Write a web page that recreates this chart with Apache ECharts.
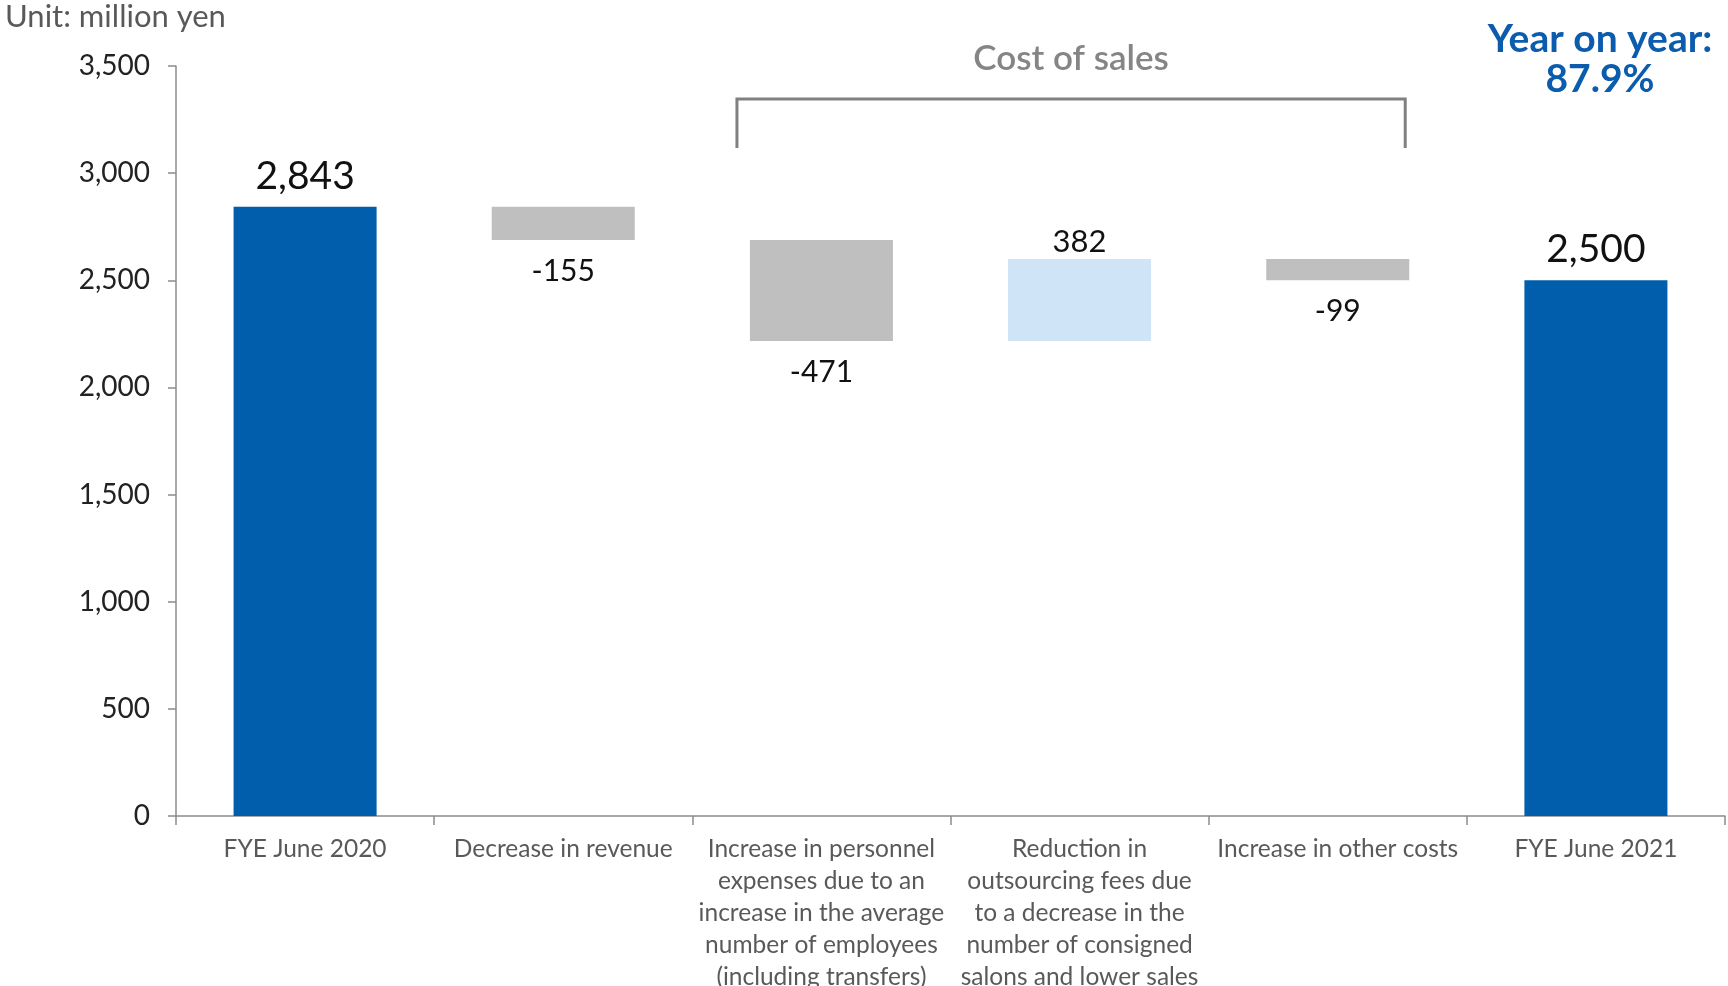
<!DOCTYPE html>
<html>
<head>
<meta charset="utf-8">
<script src="https://cdn.jsdelivr.net/npm/echarts@6/dist/echarts.min.js"></script>
<style>
  html, body { margin: 0; padding: 0; background: #fff; }
  #chart { width: 1728px; height: 986px; }
</style>
</head>
<body>
<div id="chart"></div>
<script>
// Cost-of-sales bridge, FYE June 2020 -> FYE June 2021 (million yen)
const categories = [
  'FYE June 2020',
  'Decrease in revenue',
  'Increase in personnel\nexpenses due to an\nincrease in the average\nnumber of employees\n(including transfers)',
  'Reduction in\noutsourcing fees due\nto a decrease in the\nnumber of consigned\nsalons and lower sales',
  'Increase in other costs',
  'FYE June 2021'
];
const values = [2843, -155, -471, 382, -99, 2500];
const isTotal = [true, false, false, false, false, true];
const yTicks = { min: 0, max: 3500, step: 500 };

const FONT = 'Lato, "Noto Sans", sans-serif';
const fmt = v => Math.round(v).toLocaleString('en-US');

// Waterfall: invisible base + visible segment per step
const base = [], totals = [], decreases = [], increases = [];
let running = 0;
values.forEach((v, i) => {
  if (isTotal[i]) {
    base.push(0); totals.push(v); decreases.push('-'); increases.push('-');
    running = v;
  } else if (v < 0) {
    running += v;
    base.push(running); totals.push('-'); decreases.push(-v); increases.push('-');
  } else {
    base.push(running); running += v;
    totals.push('-'); decreases.push('-'); increases.push(v);
  }
});

const chart = echarts.init(document.getElementById('chart'), null, { renderer: 'canvas' });
const barW = '55.4%';

chart.setOption({
  animation: false,
  textStyle: { fontFamily: FONT },
  grid: { left: 176, right: 3, top: 66, bottom: 170, outerBoundsMode: 'none', containLabel: false },
  xAxis: {
    type: 'category',
    data: categories,
    axisLine: { lineStyle: { color: '#8c8c8c', width: 1.5 } },
    axisTick: { show: true, length: 9, lineStyle: { color: '#8c8c8c', width: 1.5 } },
    axisLabel: {
      interval: 0, color: '#595959', fontSize: 24.5, lineHeight: 32,
      margin: 17, fontFamily: FONT, align: 'center'
    }
  },
  yAxis: {
    type: 'value',
    min: yTicks.min, max: yTicks.max, interval: yTicks.step,
    splitLine: { show: false },
    axisLine: { show: true, lineStyle: { color: '#8c8c8c', width: 1.5 } },
    axisTick: { show: true, length: 8, lineStyle: { color: '#8c8c8c', width: 1.5 } },
    axisLabel: { color: '#222', fontSize: 28, margin: 26, fontFamily: FONT, formatter: v => fmt(v) }
  },
  series: [
    {
      name: 'base', type: 'bar', stack: 'w', barWidth: barW, silent: true,
      itemStyle: { color: 'rgba(0,0,0,0)' }, data: base
    },
    {
      name: 'total', type: 'bar', stack: 'w', barWidth: barW,
      itemStyle: { color: '#005eac' },
      label: {
        show: true, position: 'top', distance: 11, color: '#111',
        fontSize: 39, fontFamily: FONT, formatter: p => fmt(p.value)
      },
      data: totals
    },
    {
      name: 'decrease', type: 'bar', stack: 'w', barWidth: barW,
      itemStyle: { color: '#bfbfbf' },
      label: {
        show: true, position: 'bottom', distance: 16, color: '#111',
        fontSize: 30, fontFamily: FONT, formatter: p => '-' + fmt(p.value)
      },
      data: decreases
    },
    {
      name: 'increase', type: 'bar', stack: 'w', barWidth: barW,
      itemStyle: { color: '#cfe4f7' },
      label: {
        show: true, position: 'top', distance: 2, color: '#111',
        fontSize: 31, fontFamily: FONT, formatter: p => fmt(p.value)
      },
      data: increases
    }
  ]
});

// Annotations: unit, "Cost of sales" bracket over steps 2–4, year-on-year note
function drawAnnotations() {
  const x2 = chart.convertToPixel({ xAxisIndex: 0 }, categories[2]);
  const x4 = chart.convertToPixel({ xAxisIndex: 0 }, categories[4]);
  const half = 258 * 0.554 / 2;
  const bx0 = x2 - half - 13, bx1 = x4 + half - 4;
  const by = 99, byEnd = 148;
  chart.setOption({
    graphic: [
      {
        type: 'text', left: 5, top: 1,
        style: { text: 'Unit: million yen', fill: '#595959', font: '31px ' + FONT }
      },
      {
        type: 'polyline',
        shape: { points: [[bx0, byEnd], [bx0, by], [bx1, by], [bx1, byEnd]] },
        style: { stroke: '#808080', lineWidth: 3, fill: null }
      },
      {
        type: 'text', x: (bx0 + bx1) / 2, y: 59,
        style: {
          text: 'Cost of sales', fill: '#858585', font: '600 35px ' + FONT,
          align: 'center', verticalAlign: 'middle'
        }
      },
      {
        type: 'text', x: 1600, y: 59,
        style: {
          text: 'Year on year:\n87.9%', fill: '#0b5cad', font: 'bold 39px ' + FONT,
          lineHeight: 40, align: 'center', verticalAlign: 'middle'
        }
      }
    ]
  });
}
drawAnnotations();
</script>
</body>
</html>
